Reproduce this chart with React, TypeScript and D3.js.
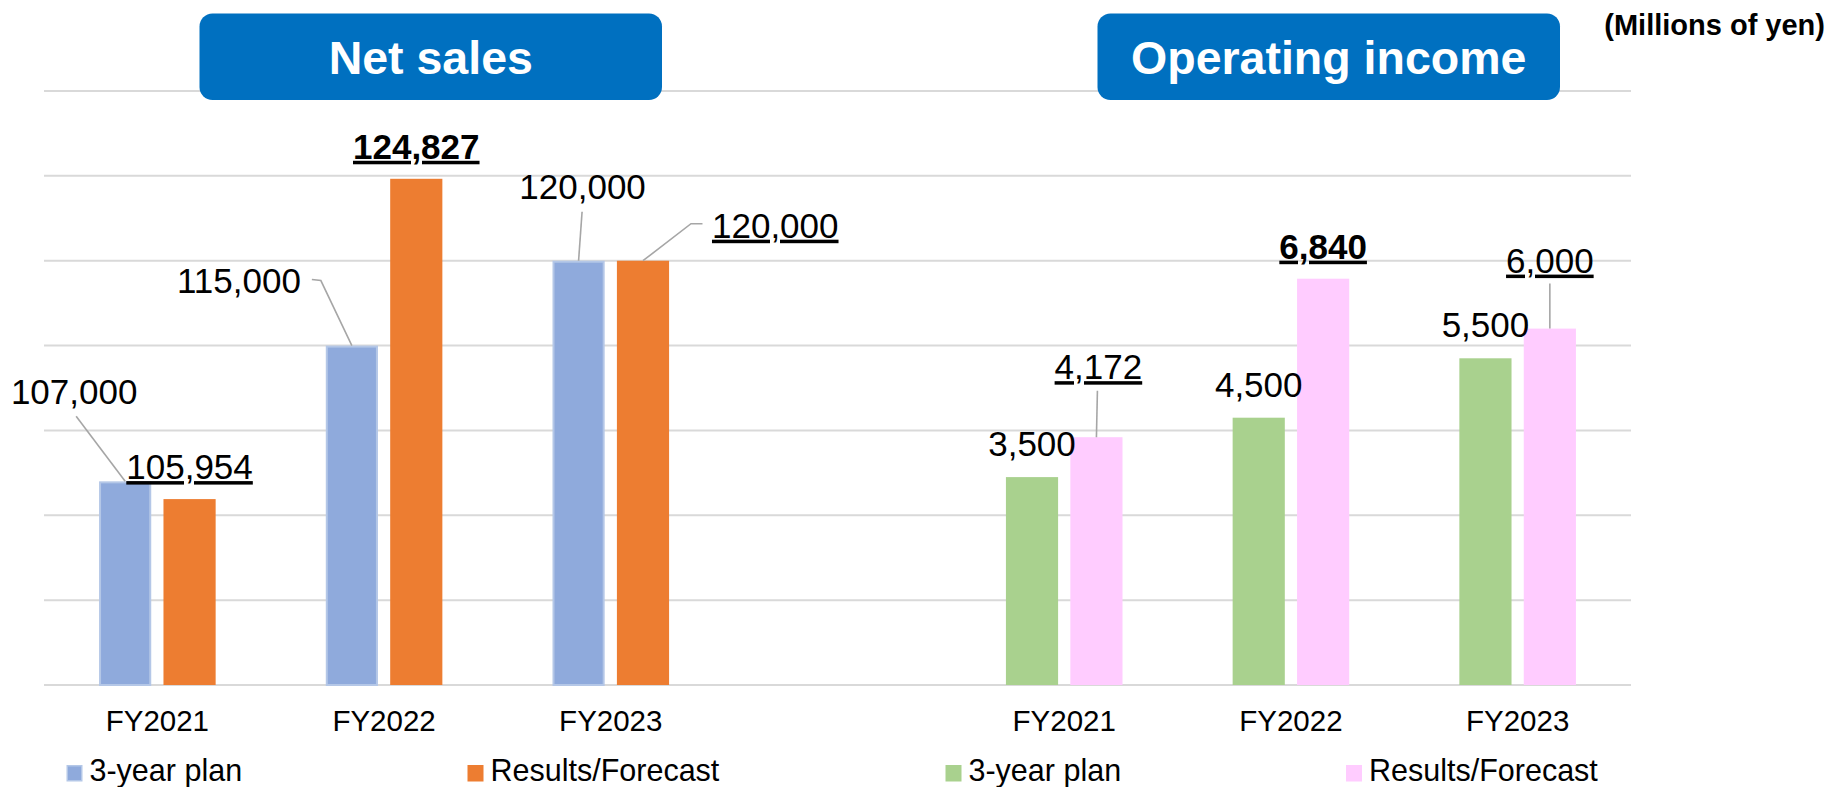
import React from "react";
import * as d3 from "d3";

// ---- data ----
const years = ["FY2021", "FY2022", "FY2023"];
const netSalesPlan = [107000, 115000, 120000];
const netSalesResult = [105954, 124827, 120000];
const opIncomePlan = [3500, 4500, 5500];
const opIncomeResult = [4172, 6840, 6000];
const netSalesTicks = [95000, 100000, 105000, 110000, 115000, 120000, 125000, 130000];
const titles = ["Net sales", "Operating income"];
const unitLabel = "(Millions of yen)";
const legendLabels = ["3-year plan", "Results/Forecast"];

// ---- layout / style ----
const W = 1827;
const H = 787;
const FONT = "'Liberation Sans', Arial, Helvetica, sans-serif";
const colors = {
  plan: "#8FAADC",
  planStroke: "#B4C7E7",
  result: "#ED7D31",
  opPlan: "#A9D18E",
  opResult: "#FFCCFF",
  grid: "#D9D9D9",
  leader: "#A6A6A6",
  title: "#0070C0",
};

// label placements relative to bar top-center
type LabelSpec = { dx: number; dy: number; anchor: string; under: boolean; bold: boolean; leader?: [number, number][] };
const nsPlanLabels: LabelSpec[] = [
  { dx: -51, dy: -77, anchor: "middle", under: false, bold: false, leader: [[-49, -65], [0, 0]] },
  { dx: -51, dy: -53, anchor: "end", under: false, bold: false, leader: [[-40, -66], [-31, -65], [0, 0]] },
  { dx: 4, dy: -62, anchor: "middle", under: false, bold: false, leader: [[3.5, -49], [0, 0]] },
];
const nsResultLabels: LabelSpec[] = [
  { dx: 0, dy: -20, anchor: "middle", under: true, bold: false },
  { dx: 0, dy: -20, anchor: "middle", under: true, bold: true },
  { dx: 69, dy: -23, anchor: "start", under: true, bold: false, leader: [[0, 0], [48, -37], [59.5, -37]] },
];
const opPlanLabels: LabelSpec[] = [
  { dx: 0, dy: -21, anchor: "middle", under: false, bold: false },
  { dx: 0, dy: -21, anchor: "middle", under: false, bold: false },
  { dx: 0, dy: -21, anchor: "middle", under: false, bold: false },
];
const opResultLabels: LabelSpec[] = [
  { dx: 2, dy: -58, anchor: "middle", under: true, bold: false, leader: [[1, -46.5], [0, 0]] },
  { dx: 0, dy: -20, anchor: "middle", under: true, bold: true },
  { dx: 0, dy: -56, anchor: "middle", under: true, bold: false, leader: [[0, -45], [0, 0]] },
];

const slots = [...years.map((y) => "L" + y), "gap", ...years.map((y) => "R" + y)];

export default function App() {
  const x = d3.scaleBand<string>().domain(slots).range([44, 1631]).padding(0);
  const sub = d3
    .scaleBand<string>()
    .domain(["plan", "result"])
    .range([0, x.bandwidth()])
    .paddingInner(0.19)
    .paddingOuter(0.855);
  const yL = d3.scaleLinear().domain([95000, 130000]).range([685, 91]);
  const yR = d3.scaleLinear().domain([0, 10000]).range([685, 91]);
  const fmt = d3.format(",");

  const series = [
    { prefix: "L", key: "plan", values: netSalesPlan, y: yL, fill: colors.plan, stroke: colors.planStroke, labels: nsPlanLabels },
    { prefix: "L", key: "result", values: netSalesResult, y: yL, fill: colors.result, stroke: "none", labels: nsResultLabels },
    { prefix: "R", key: "plan", values: opIncomePlan, y: yR, fill: colors.opPlan, stroke: "none", labels: opPlanLabels },
    { prefix: "R", key: "result", values: opIncomeResult, y: yR, fill: colors.opResult, stroke: "none", labels: opResultLabels },
  ];

  const titleBoxes = [
    { text: titles[0], x0: 199.5, x1: 662 },
    { text: titles[1], x0: 1097.5, x1: 1560 },
  ];

  const legends = [
    { x: 66.5, label: legendLabels[0], color: colors.plan, stroke: colors.planStroke },
    { x: 467.5, label: legendLabels[1], color: colors.result, stroke: "none" },
    { x: 945.5, label: legendLabels[0], color: colors.opPlan, stroke: "none" },
    { x: 1346, label: legendLabels[1], color: colors.opResult, stroke: "none" },
  ];

  return (
    <svg
      width={W}
      height={H}
      style={{ position: "absolute", left: 0, top: 0, background: "#fff" }}
      fontFamily={FONT}
    >
      {/* gridlines */}
      {netSalesTicks.map((t) => (
        <line key={t} x1={44} x2={1631} y1={yL(t)} y2={yL(t)} stroke={colors.grid} strokeWidth={2} />
      ))}

      {/* title boxes */}
      {titleBoxes.map((b) => (
        <g key={b.text}>
          <rect x={b.x0} y={13.5} width={b.x1 - b.x0} height={86.5} rx={13} ry={13} fill={colors.title} />
          <text x={(b.x0 + b.x1) / 2} y={74} textAnchor="middle" fontSize={46.5} fontWeight="bold" fill="#fff">
            {b.text}
          </text>
        </g>
      ))}
      <text x={1825} y={35} textAnchor="end" fontSize={29} fontWeight="bold" fill="#000">
        {unitLabel}
      </text>

      {/* bars */}
      {series.map((s) =>
        s.values.map((v, i) => {
          const bx = (x(s.prefix + years[i]) as number) + (sub(s.key) as number);
          const bw = sub.bandwidth();
          const top = s.y(v);
          const base = s.y.range()[0];
          const inset = s.stroke !== "none" ? 1 : 0;
          return (
            <rect
              key={s.prefix + s.key + i}
              x={bx + inset}
              y={top + inset}
              width={bw - 2 * inset}
              height={base - top - inset}
              fill={s.fill}
              stroke={s.stroke}
              strokeWidth={2}
            />
          );
        })
      )}

      {/* leaders & labels */}
      {series.map((s) =>
        s.values.map((v, i) => {
          const cx = (x(s.prefix + years[i]) as number) + (sub(s.key) as number) + sub.bandwidth() / 2;
          const top = s.y(v);
          const L = s.labels[i];
          return (
            <g key={"lab" + s.prefix + s.key + i}>
              {L.leader && (
                <polyline
                  points={L.leader.map(([a, b]) => `${cx + a},${top + b}`).join(" ")}
                  fill="none"
                  stroke={colors.leader}
                  strokeWidth={1.6}
                />
              )}
              <text
                x={cx + L.dx}
                y={top + L.dy}
                textAnchor={L.anchor}
                fontSize={35}
                fontWeight={L.bold ? "bold" : "normal"}
                textDecoration={L.under ? "underline" : undefined}
                fill="#000"
              >
                {fmt(v)}
              </text>
            </g>
          );
        })
      )}

      {/* x axis labels */}
      {slots
        .filter((k) => k !== "gap")
        .map((k) => (
          <text
            key={k}
            x={(x(k) as number) + x.bandwidth() / 2}
            y={731}
            textAnchor="middle"
            fontSize={29.5}
            fill="#000"
          >
            {k.slice(1)}
          </text>
        ))}

      {/* legends */}
      {legends.map((l, i) => {
        const inset = l.stroke !== "none" ? 0.75 : 0;
        return (
          <g key={"lg" + i}>
            <rect
              x={l.x + inset}
              y={765 + inset}
              width={16 - 2 * inset}
              height={16.5 - 2 * inset}
              fill={l.color}
              stroke={l.stroke}
              strokeWidth={1.5}
            />
            <text x={l.x + 23} y={781} fontSize={30.5} fill="#000">
              {l.label}
            </text>
          </g>
        );
      })}
    </svg>
  );
}
